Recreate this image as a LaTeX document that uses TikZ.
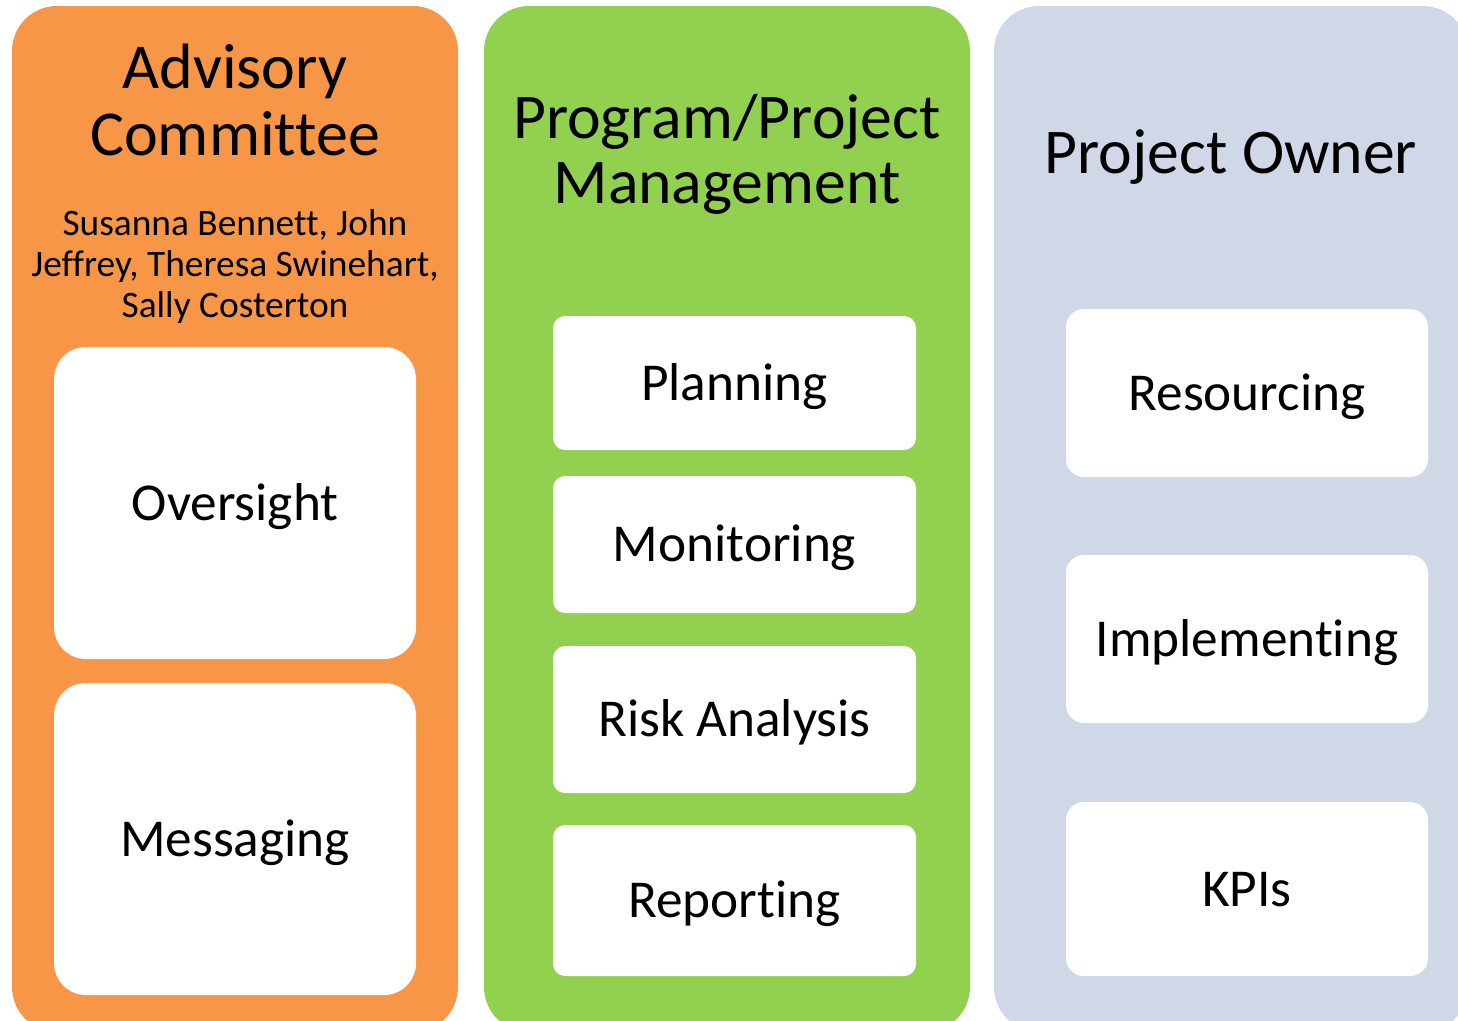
\documentclass[tikz,border=0pt]{standalone}
\usepackage{fontspec}
\setmainfont{Carlito}[Ligatures=NoCommon]
\definecolor{orangec}{HTML}{F79646}
\definecolor{greenc}{HTML}{92D050}
\definecolor{bluec}{HTML}{D0D8E8}
\begin{document}
\begin{tikzpicture}[x=1pt,y=-1pt,
  col/.style={draw=none,inner sep=0pt,rounded corners=45pt,minimum width=#1},
  wbox/.style={fill=white,draw=none,inner sep=0pt,text height=34pt,text depth=0pt,
    font=\fontsize{53.3}{62}\selectfont},
  title/.style={inner sep=0pt,align=center,anchor=base,font=\fontsize{63.7}{66}\selectfont},
]
\useasboundingbox (0,0) rectangle (1458,1020);
\clip (0,0) rectangle (1458,1020);
% columns
\node[col=446pt,fill=orangec,minimum height=1026pt] (advcol) at (235,519) {};
\node[col=486pt,fill=greenc,minimum height=1026pt] (pmcol) at (727,519) {};
\node[col=474pt,fill=bluec,minimum height=1026pt] (pocol) at (1231,519) {};
% titles (base anchor = baseline of last line)
\node[title,font=\fontsize{64}{67}\selectfont] (advt) at (235,155) {Advisory\\Committee};
\node[inner sep=0pt,align=center,anchor=base,font=\fontsize{37.4}{41}\selectfont] (names) at (235,317)
  {Susanna Bennett, John\\Jeffrey, Theresa Swinehart,\\Sally Costerton};
\node[title,font=\fontsize{63.7}{65}\selectfont] (pmt) at (727,203) {Program/Project\\Management};
\node[title] (pot) at (1231,173) {Project Owner};
% orange boxes
\node[wbox,rounded corners=32pt,minimum width=362pt,minimum height=312pt] (oversight) at (235,503) {Oversight};
\node[wbox,rounded corners=32pt,minimum width=362pt,minimum height=312pt] (messaging) at (235,839) {Messaging};
% green boxes
\node[wbox,rounded corners=12pt,minimum width=363pt,minimum height=134pt] (planning) at (734.5,383) {Planning};
\node[wbox,rounded corners=12pt,minimum width=363pt,minimum height=137pt] (monitoring) at (734.5,544.5) {Monitoring};
\node[wbox,rounded corners=12pt,minimum width=363pt,minimum height=147pt] (risk) at (734.5,719.5) {Risk Analysis};
\node[wbox,rounded corners=12pt,minimum width=363pt,minimum height=151pt] (reporting) at (734.5,900.5) {Reporting};
% blue boxes
\node[wbox,rounded corners=18pt,minimum width=362pt,minimum height=168pt] (resourcing) at (1247,393) {Resourcing};
\node[wbox,rounded corners=18pt,minimum width=362pt,minimum height=168pt] (implementing) at (1247,639) {Implementing};
\node[wbox,rounded corners=18pt,minimum width=362pt,minimum height=174pt] (kpis) at (1247,889) {KPIs};
\end{tikzpicture}
\end{document}
